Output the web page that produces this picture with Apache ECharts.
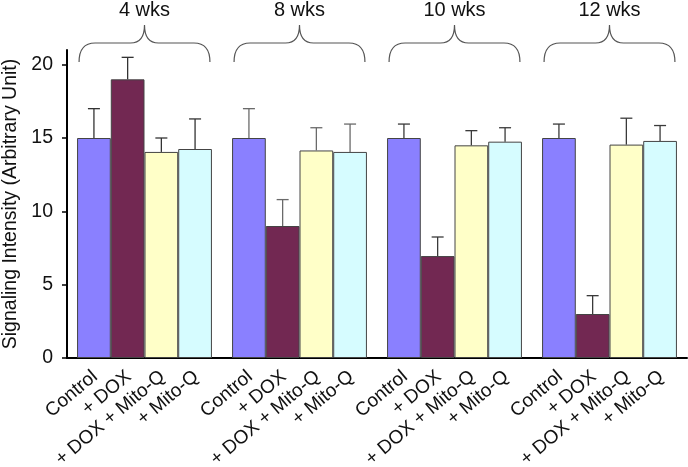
<!DOCTYPE html>
<html>
<head>
<meta charset="utf-8">
<script src="https://cdn.jsdelivr.net/npm/echarts@6/dist/echarts.min.js"></script>
<style>html,body{margin:0;padding:0;background:#fff}#c{width:688px;height:467px}</style>
</head>
<body>
<div id="c"></div>
<script>
const groups = ['4 wks', '8 wks', '10 wks', '12 wks'];
const treatments = ['Control', '+ DOX', '+ DOX + Mito-Q', '+ Mito-Q'];
const controlMean = [15, 15, 15, 15];
const controlUpper = [17.0, 17.0, 15.95, 15.95];
const doxMean = [19, 9, 6.95, 3];
const doxUpper = [20.5, 10.8, 8.25, 4.25];
const doxMitoMean = [14.05, 14.15, 14.5, 14.55];
const doxMitoUpper = [15.0, 15.7, 15.5, 16.35];
const mitoMean = [14.25, 14.05, 14.75, 14.8];
const mitoUpper = [16.3, 15.95, 15.7, 15.85];
const yTicks = [0, 5, 10, 15, 20];

const means = [controlMean, doxMean, doxMitoMean, mitoMean];
const uppers = [controlUpper, doxUpper, doxMitoUpper, mitoUpper];
const colors = ['#8A80FF', '#722852', '#FFFFC8', '#D6FCFF'];
const errColors = ['#333', '#6a6a6a', '#3a3a3a', '#3a3a3a'];
const FONT = 'Liberation Sans, Arial, sans-serif';
const GAP = 0.13;
const YMAX = 21;

const barSeries = treatments.map((t, i) => ({
  type: 'bar',
  name: t,
  data: means[i],
  barGap: '0%',
  barCategoryGap: (GAP * 100) + '%',
  itemStyle: { color: colors[i], borderColor: '#444', borderWidth: 1 },
  silent: true
}));

const pairs = [];
for (let t = 0; t < treatments.length; t++) {
  for (let g = 0; g < groups.length; g++) {
    pairs.push([g, t, means[t][g], uppers[t][g]]);
  }
}

function barCenterX(api, g, t) {
  const catW = api.size([1, 0])[0];
  const bw = catW * (1 - GAP) / 4;
  return api.coord([g, 0])[0] + (t - 1.5) * bw;
}

const errSeries = {
  type: 'custom',
  z: 5,
  silent: true,
  encode: { x: 0, y: 3 },
  data: pairs,
  renderItem(params, api) {
    const g = api.value(0), t = api.value(1), m = api.value(2), u = api.value(3);
    const x = barCenterX(api, g, t);
    const yBase = api.coord([g, m])[1];
    const yTop = api.coord([g, u])[1];
    const st = { stroke: errColors[g], lineWidth: 1.3 };
    return {
      type: 'group',
      children: [
        { type: 'line', shape: { x1: x, y1: yBase, x2: x, y2: yTop }, style: st },
        { type: 'line', shape: { x1: x - 6, y1: yTop, x2: x + 6, y2: yTop }, style: st }
      ]
    };
  }
};

const labelSeries = {
  type: 'custom',
  z: 6,
  silent: true,
  clip: false,
  encode: { x: 0, y: 2 },
  data: pairs,
  renderItem(params, api) {
    const g = api.value(0), t = api.value(1);
    const x = barCenterX(api, g, t);
    const y0 = api.coord([g, 0])[1];
    return {
      type: 'text',
      x: x - 5,
      y: y0 + 9,
      rotation: 40 * Math.PI / 180,
      style: { text: treatments[t], fontSize: 19, fontFamily: FONT, fill: '#111', align: 'right', verticalAlign: 'top' }
    };
  }
};

const braceSeries = {
  type: 'custom',
  z: 5,
  silent: true,
  clip: false,
  encode: { x: 0, y: 1 },
  data: groups.map((g, i) => [i, YMAX]),
  renderItem(params, api) {
    const g = api.value(0);
    const p = api.coord([g, YMAX]);
    const catW = api.size([1, 0])[0];
    const bw = catW * (1 - GAP) / 4;
    const cx = p[0], top = p[1];
    const x0 = cx - 2 * bw + 2, x1 = cx + 2 * bw - 2;
    const yE = top + 12, yH = top - 7, yT = top - 25;
    const path = `M${x0} ${yE} Q${x0} ${yH} ${x0 + 16} ${yH} L${cx - 14} ${yH} Q${cx} ${yH} ${cx} ${yT} Q${cx} ${yH} ${cx + 14} ${yH} L${x1 - 16} ${yH} Q${x1} ${yH} ${x1} ${yE}`;
    return {
      type: 'group',
      children: [
        { type: 'path', shape: { pathData: path }, style: { stroke: '#555', lineWidth: 1.2, fill: null } },
        { type: 'text', x: cx, y: top - 40, style: { text: groups[g], fontSize: 20, fontFamily: FONT, fill: '#111', align: 'center', verticalAlign: 'middle' } }
      ]
    };
  }
};

const chart = echarts.init(document.getElementById('c'), null, { renderer: 'canvas' });
chart.setOption({
  animation: false,
  grid: { left: 67, right: 1, top: 50, bottom: 109, containLabel: false, outerBoundsMode: 'none' },
  xAxis: {
    type: 'category',
    data: groups,
    axisLine: { lineStyle: { color: '#000', width: 2 } },
    axisTick: { show: false },
    axisLabel: { show: false },
    splitLine: { show: false }
  },
  yAxis: {
    type: 'value',
    min: 0,
    max: YMAX,
    interval: 5,
    name: 'Signaling Intensity (Arbitrary Unit)',
    nameLocation: 'middle',
    nameGap: 44,
    nameTextStyle: { fontSize: 19.5, fontFamily: FONT, color: '#111' },
    axisLine: { show: true, lineStyle: { color: '#000', width: 2 } },
    axisTick: { show: true, length: 5, customValues: yTicks, lineStyle: { color: '#000', width: 1.5 } },
    axisLabel: { customValues: yTicks, fontSize: 19.5, fontFamily: FONT, color: '#111', margin: 14 },
    splitLine: { show: false }
  },
  series: [...barSeries, errSeries, labelSeries, braceSeries]
});
</script>
</body>
</html>
